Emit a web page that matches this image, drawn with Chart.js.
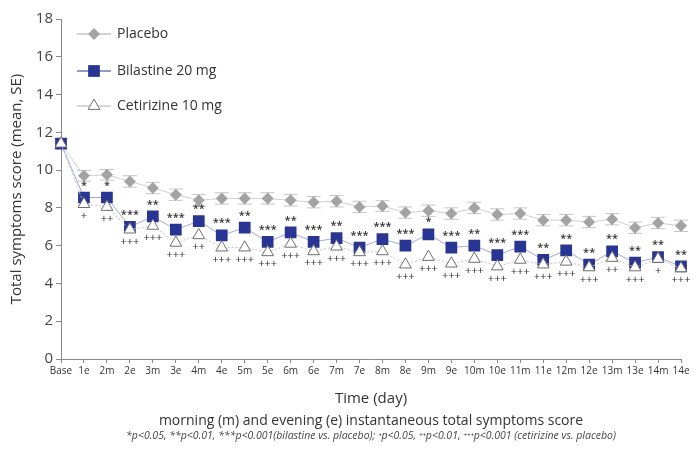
<!DOCTYPE html>
<html>
<head>
<meta charset="utf-8">
<script src="https://cdn.jsdelivr.net/npm/chart.js@4.4.1/dist/chart.umd.min.js"></script>
<style>
  html, body { margin: 0; padding: 0; background: #fff; }
  #wrap { width: 696px; height: 465px; position: relative; }
</style>
</head>
<body>
<div id="wrap"><canvas id="symptoms-chart"></canvas></div>
<script>
const categories = ["Base", "1e", "2m", "2e", "3m", "3e", "4m", "4e", "5m", "5e", "6m", "6e", "7m", "7e",
  "8m", "8e", "9m", "9e", "10m", "10e", "11m", "11e", "12m", "12e", "13m", "13e", "14m", "14e"];

const placebo = [11.4, 9.7, 9.75, 9.4, 9.05, 8.7, 8.4, 8.5, 8.5, 8.5, 8.4, 8.3, 8.35, 8.05,
  8.1, 7.75, 7.85, 7.7, 8.0, 7.65, 7.7, 7.35, 7.35, 7.25, 7.4, 6.95, 7.2, 7.05];
const placeboSE = [0.25, 0.28, 0.28, 0.3, 0.3, 0.3, 0.3, 0.3, 0.3, 0.3, 0.3, 0.3, 0.3, 0.3,
  0.28, 0.3, 0.3, 0.3, 0.3, 0.3, 0.3, 0.3, 0.3, 0.3, 0.3, 0.3, 0.3, 0.3];
const bilastine = [11.4, 8.55, 8.55, 7.0, 7.55, 6.85, 7.3, 6.55, 6.95, 6.2, 6.7, 6.2, 6.4, 5.9,
  6.35, 6.0, 6.6, 5.9, 6.0, 5.5, 5.95, 5.25, 5.75, 5.0, 5.7, 5.1, 5.4, 4.9];
const cetirizine = [11.4, 8.2, 8.05, 6.85, 7.05, 6.15, 6.55, 5.9, 5.9, 5.65, 6.1, 5.7, 5.95, 5.65,
  5.7, 5.0, 5.4, 5.05, 5.3, 4.9, 5.25, 5.0, 5.15, 4.85, 5.35, 4.85, 5.3, 4.8];

// significance marks (bilastine vs placebo above, cetirizine vs placebo below)
const bilastineSig = ["", "*", "*", "***", "**", "***", "**", "***", "**", "***", "**", "***", "**", "***",
  "***", "***", "*", "***", "**", "***", "***", "**", "**", "**", "**", "**", "**", "**"];
const cetirizineSig = ["", "+", "++", "+++", "+++", "+++", "++", "+++", "+++", "+++", "+++", "+++", "+++", "+++",
  "+++", "+++", "+++", "+++", "+++", "+++", "+++", "+++", "+++", "+++", "++", "+++", "+", "+++"];

const seriesNames = ["Placebo", "Bilastine 20 mg", "Cetirizine 10 mg"];

const FONT = "'Open Sans', 'Noto Sans', sans-serif";
Chart.defaults.font.family = FONT;
Chart.defaults.color = "#333";

const errorBars = {
  id: "errorBars",
  beforeDatasetsDraw(chart) {
    const ctx = chart.ctx;
    const y = chart.scales.y;
    const meta = chart.getDatasetMeta(0);
    ctx.save();
    ctx.strokeStyle = "#c4c4c4";
    ctx.lineWidth = 1;
    meta.data.forEach((pt, i) => {
      const top = y.getPixelForValue(placebo[i] + placeboSE[i]);
      const bot = y.getPixelForValue(placebo[i] - placeboSE[i]);
      ctx.beginPath();
      ctx.moveTo(pt.x, top); ctx.lineTo(pt.x, bot);
      ctx.moveTo(pt.x - 7, top); ctx.lineTo(pt.x + 7, top);
      ctx.moveTo(pt.x - 7, bot); ctx.lineTo(pt.x + 7, bot);
      ctx.stroke();
    });
    ctx.restore();
  }
};

const extras = {
  id: "extras",
  afterDraw(chart) {
    const ctx = chart.ctx;
    const area = chart.chartArea;
    ctx.save();

    // significance marks
    ctx.textAlign = "center";
    ctx.textBaseline = "middle";
    ctx.fillStyle = "#333";
    const bMeta = chart.getDatasetMeta(1);
    const cMeta = chart.getDatasetMeta(2);
    ctx.font = "600 11px " + FONT;
    bMeta.data.forEach((pt, i) => {
      if (bilastineSig[i]) ctx.fillText(bilastineSig[i], pt.x, pt.y - 12);
    });
    ctx.font = "11px " + FONT;
    cMeta.data.forEach((pt, i) => {
      if (cetirizineSig[i]) ctx.fillText(cetirizineSig[i], pt.x, pt.y + 12);
    });

    // legend
    const rows = [34, 71, 106];
    chart.data.datasets.forEach((ds, i) => {
      const ly = rows[i];
      ctx.strokeStyle = ds.legendLine;
      ctx.lineWidth = 1;
      ctx.setLineDash([]);
      ctx.beginPath();
      ctx.moveTo(77, ly); ctx.lineTo(111, ly);
      ctx.stroke();
      ctx.fillStyle = ds.pointBackgroundColor;
      ctx.strokeStyle = ds.pointBorderColor;
      ctx.lineWidth = ds.pointBorderWidth || 1;
      Chart.helpers.drawPoint(ctx, {
        pointStyle: ds.pointStyle,
        radius: ds.pointRadius,
        borderWidth: ds.pointBorderWidth
      }, 94, ly);
      ctx.fillStyle = "#333";
      ctx.font = "14px " + FONT;
      ctx.textAlign = "left";
      ctx.textBaseline = "middle";
      ctx.fillText(ds.label, 117, ly);
    });

    // captions under the axis
    const cx = (area.left + area.right) / 2;
    ctx.textAlign = "center";
    ctx.textBaseline = "middle";
    ctx.fillStyle = "#333";
    ctx.font = "14px " + FONT;
    ctx.fillText("morning (m) and evening (e) instantaneous total symptoms score", cx, 421);
    ctx.fillStyle = "#444";
    ctx.font = "italic 10.5px " + FONT;
    ctx.fillText("*p<0.05, **p<0.01, ***p<0.001(bilastine vs. placebo); \u207Ap<0.05, \u207A\u207Ap<0.01, \u207A\u207A\u207Ap<0.001 (cetirizine vs. placebo)", cx, 436, 503);
    ctx.restore();
  }
};

new Chart(document.getElementById("symptoms-chart"), {
  type: "line",
  data: {
    labels: categories,
    datasets: [
      {
        label: seriesNames[0],
        data: placebo,
        order: 2,
        borderColor: "#cfcfcf",
        legendLine: "#a8a8a8",
        borderWidth: 1,
        pointStyle: "rectRot",
        pointRadius: 6,
        pointBackgroundColor: "#a3a3a3",
        pointBorderColor: "#a3a3a3",
        pointBorderWidth: 0,
        tension: 0,
      },
      {
        label: seriesNames[1],
        data: bilastine,
        order: 1,
        borderColor: "#a4a9d4",
        legendLine: "#2a3591",
        borderWidth: 1,
        pointStyle: "rect",
        pointRadius: 8.3,
        pointBackgroundColor: "#283593",
        pointBorderColor: "#283593",
        pointBorderWidth: 0,
        tension: 0,
      },
      {
        label: seriesNames[2],
        data: cetirizine,
        order: 0,
        borderColor: "#c4c4c4",
        legendLine: "#b0b0b0",
        borderDash: [2, 2],
        borderWidth: 1,
        pointStyle: "triangle",
        pointRadius: 6.8,
        pointBackgroundColor: "#ffffff",
        pointBorderColor: "#6e6e6e",
        pointBorderWidth: 1,
        tension: 0,
      },
    ],
  },
  options: {
    responsive: true,
    maintainAspectRatio: false,
    animation: false,
    layout: { padding: { top: 19, right: 15, bottom: 57, left: 0 } },
    plugins: {
      legend: { display: false },
      tooltip: { enabled: false },
    },
    scales: {
      x: {
        type: "category",
        offset: false,
        afterFit: (s) => { s.height = 49; },
        border: { color: "#8a8a8a" },
        grid: { drawOnChartArea: false, tickLength: 4, color: "#8a8a8a" },
        ticks: { font: { size: 10 }, color: "#333", padding: 2, maxRotation: 0, autoSkip: false },
        title: { display: true, text: "Time (day)", font: { size: 15 }, color: "#333", padding: 0 },
      },
      y: {
        min: 0,
        max: 18,
        afterFit: (s) => { s.width = 61; },
        border: { color: "#8a8a8a" },
        grid: { drawOnChartArea: false, tickLength: 5, color: "#8a8a8a" },
        ticks: { stepSize: 2, font: { size: 15 }, color: "#444", padding: 3 },
        title: { display: true, text: "Total symptoms score (mean, SE)", font: { size: 15 }, color: "#333", padding: { top: 8, bottom: 0 } },
      },
    },
  },
  plugins: [errorBars, extras],
});
</script>
</body>
</html>
